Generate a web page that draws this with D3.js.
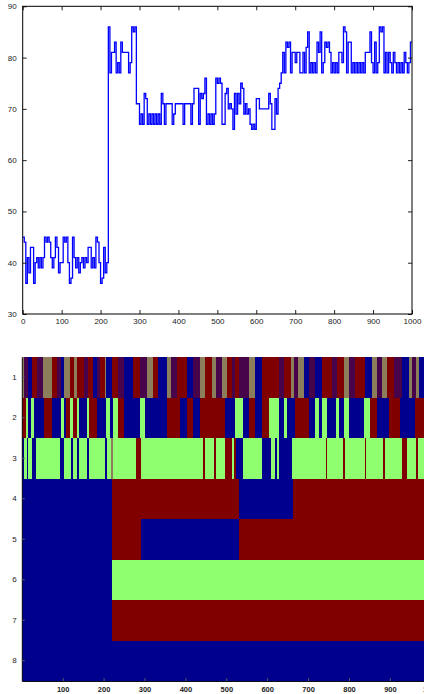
<!DOCTYPE html>
<html>
<head>
<meta charset="utf-8">
<script src="https://cdn.jsdelivr.net/npm/d3@7"></script>
<style>
body { margin: 0; background: #fff; }
text { font-family: "Liberation Sans", Arial, sans-serif; }
</style>
</head>
<body>
<script>
// top trace, sampled every 4 steps (0..1000)
var stepX = d3.range(0, 1001, 4);
var level = [
  45,44,36,41,38,43,43,36,40,41,
  39,41,39,41,45,44,45,44,41,39,
  41,45,43,38,40,40,45,44,45,40,
  36,37,45,41,39,41,38,40,41,39,
  41,40,43,43,39,41,39,45,44,40,
  36,37,43,38,40,86,77,81,81,83,
  77,79,77,83,81,81,81,81,77,79,
  86,85,86,71,71,67,69,67,73,72,
  67,69,67,69,67,69,67,69,67,73,
  71,67,71,71,71,71,67,69,71,71,
  71,71,71,67,71,71,71,71,67,71,
  74,74,74,67,73,72,73,76,67,69,
  67,69,67,69,76,75,76,75,67,67,
  73,74,70,71,70,66,73,69,73,71,
  75,74,69,71,69,70,67,66,67,66,
  72,72,70,70,70,70,70,70,73,71,
  66,66,72,69,74,75,77,81,77,83,
  82,83,77,81,81,79,81,81,77,77,
  81,77,82,85,77,79,77,79,77,83,
  81,85,77,79,83,82,83,81,77,79,
  77,79,77,81,81,79,86,85,77,83,
  83,77,79,77,79,77,79,77,79,77,
  81,81,81,85,79,77,83,77,79,86,
  85,86,77,81,77,81,79,77,81,79,
  77,79,77,79,77,81,79,77,79,83,
  83
];
var xTicks = [0, 100, 200, 300, 400, 500, 600, 700, 800, 900, 1000];
var yTicks = [30, 40, 50, 60, 70, 80, 90];

// state map: [start, end, state]
var rows = [1, 2, 3, 4, 5, 6, 7, 8];
var row1 = [[0,5,"t"],[5,14,"p"],[14,24,"b"],[24,36,"r"],[36,53,"p"],[53,73,"t"],[73,85,"r"],[85,95,"p"],[95,103,"b"],[103,118,"t"],[118,128,"r"],[128,136,"t"],[136,151,"r"],[151,163,"p"],[163,175,"r"],[175,183,"b"],[183,191,"p"],[191,203,"r"],[203,207,"t"],[207,220,"b"],[220,234,"r"],[234,250,"p"],[250,273,"b"],[273,289,"r"],[289,305,"p"],[305,320,"t"],[320,334,"r"],[334,354,"b"],[354,364,"t"],[364,379,"p"],[379,403,"r"],[403,419,"b"],[419,436,"p"],[436,448,"t"],[448,465,"r"],[465,475,"t"],[475,489,"p"],[489,502,"t"],[502,514,"r"],[514,522,"p"],[522,530,"r"],[530,555,"p"],[555,571,"t"],[571,587,"b"],[587,628,"r"],[628,640,"p"],[640,657,"r"],[657,665,"t"],[665,675,"p"],[675,689,"t"],[689,701,"b"],[701,718,"p"],[718,734,"b"],[734,758,"r"],[758,771,"p"],[771,787,"r"],[787,799,"t"],[799,815,"p"],[815,840,"r"],[840,856,"b"],[856,868,"t"],[868,881,"p"],[881,893,"t"],[893,909,"r"],[909,930,"p"],[930,946,"b"],[946,954,"t"],[954,964,"p"],[964,970,"t"],[970,1001,"b"]];
var row2 = [[0,10,"r"],[10,14,"g"],[14,22,"b"],[22,30,"g"],[30,54,"b"],[54,73,"r"],[73,95,"b"],[95,103,"g"],[103,108,"b"],[108,119,"r"],[119,124,"g"],[124,136,"r"],[136,141,"g"],[141,160,"b"],[160,165,"g"],[165,183,"r"],[183,206,"b"],[206,215,"g"],[215,224,"b"],[224,234,"g"],[234,250,"r"],[250,289,"b"],[289,302,"g"],[302,354,"b"],[354,387,"r"],[387,403,"b"],[403,419,"r"],[419,436,"b"],[436,498,"r"],[498,522,"b"],[522,542,"g"],[542,555,"b"],[555,571,"r"],[571,587,"b"],[587,605,"r"],[605,628,"g"],[628,640,"b"],[640,648,"g"],[648,669,"b"],[669,701,"r"],[701,718,"b"],[718,726,"g"],[726,734,"b"],[734,746,"g"],[746,767,"b"],[767,775,"g"],[775,787,"b"],[787,799,"g"],[799,836,"b"],[836,852,"g"],[852,868,"r"],[868,897,"b"],[897,925,"r"],[925,962,"b"],[962,1001,"r"]];
var row3 = [[0,5,"b"],[5,12,"g"],[12,15,"b"],[15,25,"g"],[25,35,"b"],[35,94,"g"],[94,103,"b"],[103,120,"g"],[120,125,"b"],[125,136,"g"],[136,141,"b"],[141,160,"g"],[160,165,"b"],[165,203,"g"],[203,209,"b"],[209,217,"g"],[217,222,"t"],[222,279,"g"],[279,291,"r"],[291,442,"g"],[442,449,"r"],[449,470,"g"],[470,476,"r"],[476,498,"g"],[498,514,"r"],[514,519,"g"],[519,524,"r"],[524,542,"b"],[542,587,"g"],[587,610,"b"],[610,618,"g"],[618,625,"b"],[625,630,"g"],[630,660,"b"],[660,744,"g"],[744,747,"r"],[747,786,"g"],[786,789,"r"],[789,839,"g"],[839,842,"r"],[842,884,"g"],[884,887,"r"],[887,930,"g"],[930,942,"r"],[942,963,"g"],[963,968,"r"],[968,1001,"g"]];
var row4 = [[0,220,"b"],[220,531,"r"],[531,664,"b"],[664,1001,"r"]];
var row5 = [[0,220,"b"],[220,291,"r"],[291,531,"b"],[531,1001,"r"]];
var row6 = [[0,220,"b"],[220,1001,"g"]];
var row7 = [[0,220,"b"],[220,1001,"r"]];
var row8 = [[0,1001,"b"]];
var mapTicks = [100, 200, 300, 400, 500, 600, 700, 800, 900, 1000];

var stateColor = { b: "#00008f", r: "#800000", g: "#8fff70", t: "#8c7d5b", p: "#48044a" };

var svg = d3.select("body").append("svg").attr("width", 424).attr("height", 694);

// ---- top line plot
var x = d3.scaleLinear().domain([0, 1000]).range([22.7, 412]);
var y = d3.scaleLinear().domain([30, 90]).range([314, 6.3]);

var plot = svg.append("g");
var line = d3.line().x(function (d, i) { return x(stepX[i]); }).y(function (d) { return y(d); }).curve(d3.curveStepAfter);
plot.append("path").datum(level).attr("d", line).attr("fill", "none").attr("stroke", "#0000ff").attr("stroke-width", 1.3);

plot.append("g").attr("transform", "translate(0,314)")
  .call(d3.axisBottom(x).tickValues(xTicks).tickSizeInner(-4).tickSizeOuter(0).tickPadding(4).tickFormat(d3.format("d")));
plot.append("g").attr("transform", "translate(0,6.3)")
  .call(d3.axisTop(x).tickValues(xTicks).tickSizeInner(-4).tickSizeOuter(0).tickFormat(""));
plot.append("g").attr("transform", "translate(22.7,0)")
  .call(d3.axisLeft(y).tickValues(yTicks).tickSizeInner(-4).tickSizeOuter(0).tickPadding(6));
plot.append("g").attr("transform", "translate(412,0)")
  .call(d3.axisRight(y).tickValues(yTicks).tickSizeInner(-4).tickSizeOuter(0).tickFormat(""));
plot.selectAll(".domain").remove();
plot.selectAll(".tick line").attr("stroke", "#222");
plot.selectAll(".tick text").attr("font-size", 8).attr("fill", "#222")
  .attr("font-family", "Liberation Sans, Arial, sans-serif");
plot.append("rect").attr("x", 22.7).attr("y", 6.3).attr("width", 412 - 22.7).attr("height", 314 - 6.3)
  .attr("fill", "none").attr("stroke", "#000").attr("stroke-width", 1);

// ---- state map
var mx = d3.scaleLinear().domain([0, 1000]).range([21.8, 430.8]);
var my = d3.scaleBand().domain(rows).range([357, 681]);
var rowData = [row1, row2, row3, row4, row5, row6, row7, row8];

var map = svg.append("g");
rowData.forEach(function (segs, k) {
  map.append("g").selectAll("rect").data(segs).enter().append("rect")
    .attr("x", function (d) { return mx(d[0]); })
    .attr("width", function (d) { return mx(d[1]) - mx(d[0]) + 0.3; })
    .attr("y", my(rows[k]))
    .attr("height", my.bandwidth() + 0.3)
    .attr("fill", function (d) { return stateColor[d[2]]; })
    .attr("shape-rendering", "crispEdges");
});

var mxAxis = map.append("g").attr("transform", "translate(0,681)")
  .call(d3.axisBottom(mx).tickValues(mapTicks).tickSizeInner(-3).tickSizeOuter(0).tickPadding(6).tickFormat(d3.format("d")));
var myAxis = map.append("g").attr("transform", "translate(21.8,0)")
  .call(d3.axisLeft(my).tickSizeInner(-3).tickSizeOuter(0).tickPadding(5));
map.selectAll(".domain").attr("stroke", "#111");
map.selectAll(".tick line").attr("stroke", "#556");
map.selectAll(".tick text").attr("fill", "#222").attr("font-family", "Liberation Sans, Arial, sans-serif");
mxAxis.selectAll(".tick text").attr("font-size", 7.5).attr("font-weight", "bold");
myAxis.selectAll(".tick text").attr("font-size", 8);
</script>
</body>
</html>
